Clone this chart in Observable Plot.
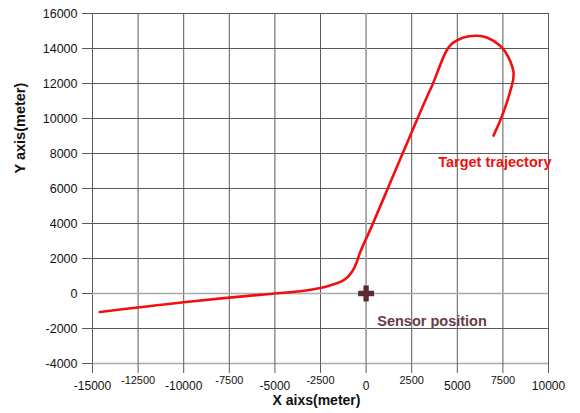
<!DOCTYPE html>
<html>
<head>
<meta charset="utf-8">
<script src="https://cdn.jsdelivr.net/npm/d3@7"></script>
<script src="https://cdn.jsdelivr.net/npm/@observablehq/plot@0.6"></script>
<style>
  html, body { margin: 0; padding: 0; background: #fff; }
  #chart svg { display: block; font-family: "Liberation Sans", Arial, sans-serif; }
</style>
</head>
<body>
<div id="chart"></div>
<script>
// Trajectory (meters)
const trajX = [-14600, -10000, -5000, -3600, -2500, -1800, -1240, -780, -510, -320, 40, 680, 2966, 3695, 4300, 4793, 5340, 5982, 6623, 7352, 7807, 8081, 7990, 7719, 7352, 6986];
const trajY = [-1060, -500, 0, 125, 320, 525, 753, 1227, 1800, 2370, 3220, 4750, 10354, 12065, 13650, 14347, 14633, 14729, 14633, 14158, 13491, 12636, 11877, 10924, 9880, 9024];

const sensorX = [0];
const sensorY = [0];

const xTicks = [-15000, -12500, -10000, -7500, -5000, -2500, 0, 2500, 5000, 7500, 10000];
const xTicksLow = [-15000, -10000, -5000, 0, 5000, 10000];
const xTicksHigh = [-12500, -7500, -2500, 2500, 7500];
const yTicks = [-4000, -2000, 0, 2000, 4000, 6000, 8000, 10000, 12000, 14000, 16000];

const xTitle = "X aixs(meter)";
const yTitle = "Y axis(meter)";
const trajLabel = "Target trajectory";
const sensorLabel = "Sensor position";

const traj = trajX.map((x, i) => ({x, y: trajY[i]}));
const sensor = sensorX.map((x, i) => ({x, y: sensorY[i]}));

const font = "Liberation Sans, Arial, sans-serif";

const plot = Plot.plot({
  width: 580,
  height: 413,
  marginLeft: 92,
  marginRight: 32,
  marginTop: 13,
  marginBottom: 50,
  style: {fontFamily: font, background: "#fff", overflow: "visible"},
  x: {domain: [-15000, 10000], axis: null, label: null},
  y: {domain: [-4000, 16000], axis: null, label: null},
  marks: [
    Plot.gridX(xTicks, {stroke: "#5a5a5a", strokeOpacity: 1, strokeWidth: 1}),
    Plot.gridY(yTicks, {stroke: "#5a5a5a", strokeOpacity: 1, strokeWidth: 1}),
    Plot.ruleX([0], {stroke: "#ababab", strokeWidth: 1.5}),
    Plot.ruleY([0, -4000], {stroke: "#ababab", strokeWidth: 1.5}),
    Plot.axisX({ticks: xTicks, tickSize: 10, tickFormat: () => "", stroke: "#5a5a5a", label: null}),
    Plot.axisY({ticks: yTicks, tickSize: 10, tickFormat: () => "", stroke: "#5a5a5a", label: null}),
    Plot.text(xTicksLow, {x: d => d, y: -4000, dy: 23, text: d => String(d), fontSize: 12, fill: "#111"}),
    Plot.text(xTicksHigh, {x: d => d, y: -4000, dy: 17, text: d => String(d), fontSize: 11, fill: "#111"}),
    Plot.text(yTicks, {x: -15000, y: d => d, dx: -15, textAnchor: "end", text: d => String(d), fontSize: 12.5, fill: "#111"}),
    Plot.text([xTitle], {frameAnchor: "bottom", dy: 41, dx: -4, text: d => d, fontSize: 14, fontWeight: "bold", fill: "#111"}),
    Plot.text([yTitle], {frameAnchor: "left", dx: -72, dy: -15, rotate: -90, text: d => d, fontSize: 14.5, fontWeight: "bold", fill: "#111"}),
    Plot.line(traj, {x: "x", y: "y", stroke: "#f01010", strokeWidth: 2.6, curve: "natural"}),
    Plot.dot(sensor, {x: "x", y: "y", symbol: "cross", r: 6.7, fill: "#5c2b30", stroke: "none"}),
    Plot.text([trajLabel], {x: 3950, y: 7480, text: d => d, textAnchor: "start", fontSize: 14.5, fontWeight: "bold", fill: "#ee1111"}),
    Plot.text([sensorLabel], {x: 610, y: -1590, text: d => d, textAnchor: "start", fontSize: 14.5, fontWeight: "bold", fill: "#6b3a44"})
  ]
});

document.getElementById("chart").appendChild(plot);
</script>
</body>
</html>
